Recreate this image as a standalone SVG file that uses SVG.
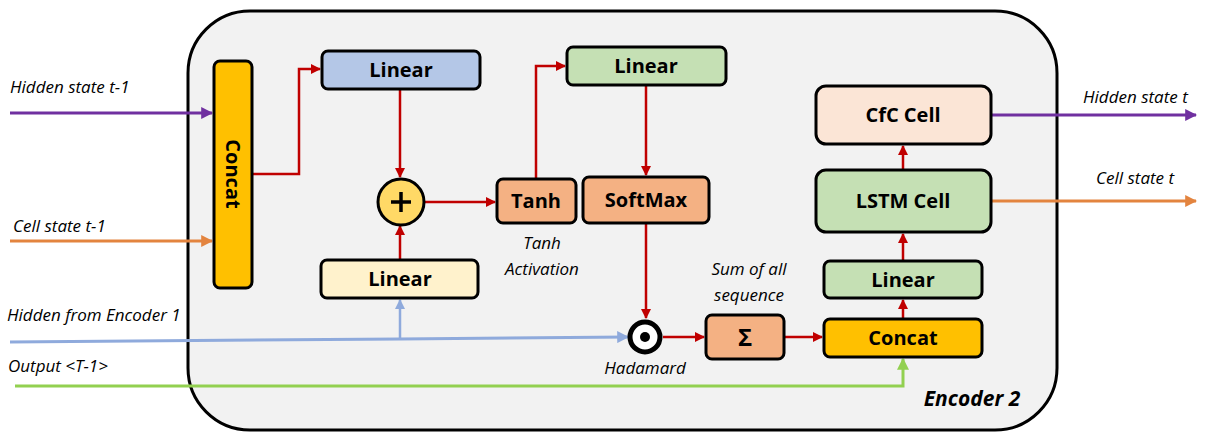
<svg xmlns="http://www.w3.org/2000/svg" width="1206" height="441" viewBox="0 0 1206 441">
<style>
.box{stroke:#000;stroke-width:3}
.t{font-family:"Open Sans","Liberation Sans",sans-serif;font-weight:bold;font-size:20px;text-anchor:middle;fill:#000}
.lbl{font-family:"Open Sans","Liberation Sans",sans-serif;font-style:italic;font-size:17px;fill:#000}
.red{stroke:#c00000;stroke-width:2.5;fill:none;marker-end:url(#ar)}
</style>
<defs>
<marker id="ar" viewBox="0 0 10 10" refX="9" refY="5" markerWidth="4" markerHeight="4" orient="auto" markerUnits="strokeWidth"><path d="M0,0L10,5L0,10z" fill="#c00000"/></marker>
<marker id="ap" viewBox="0 0 10 10" refX="9" refY="5" markerWidth="4" markerHeight="4" orient="auto" markerUnits="strokeWidth"><path d="M0,0L10,5L0,10z" fill="#7030a0"/></marker>
<marker id="ao" viewBox="0 0 10 10" refX="9" refY="5" markerWidth="4" markerHeight="4" orient="auto" markerUnits="strokeWidth"><path d="M0,0L10,5L0,10z" fill="#e3843f"/></marker>
<marker id="ab" viewBox="0 0 10 10" refX="9" refY="5" markerWidth="4" markerHeight="4" orient="auto" markerUnits="strokeWidth"><path d="M0,0L10,5L0,10z" fill="#8faadc"/></marker>
<marker id="ag" viewBox="0 0 10 10" refX="9" refY="5" markerWidth="4" markerHeight="4" orient="auto" markerUnits="strokeWidth"><path d="M0,0L10,5L0,10z" fill="#92d050"/></marker>
</defs>
<rect width="1206" height="441" fill="#fff"/>
<g id="encoder2">
<rect x="188" y="11" width="869" height="419" rx="62" fill="#f2f2f2" stroke="#000" stroke-width="3"/>
<text x="972" y="406" text-anchor="middle" style="font-family:'Open Sans','Liberation Sans',sans-serif;font-weight:bold;font-style:italic;font-size:21px">Encoder 2</text>
</g>
<g id="connectors">
<path d="M10,113H212" stroke="#7030a0" stroke-width="3" fill="none" marker-end="url(#ap)"/>
<path d="M10,241H212" stroke="#e3843f" stroke-width="3" fill="none" marker-end="url(#ao)"/>
<path d="M10,342L400,339L628,337" stroke="#8faadc" stroke-width="3" fill="none" marker-end="url(#ab)"/>
<path d="M400,339V300" stroke="#8faadc" stroke-width="2.5" fill="none" marker-end="url(#ab)"/>
<path d="M15,386H903V359" stroke="#92d050" stroke-width="3" fill="none" marker-end="url(#ag)"/>
<path d="M252,174H299V69H320" class="red"/>
<path d="M400,89V177" class="red"/>
<path d="M400,260V226" class="red"/>
<path d="M424,202H495" class="red"/>
<path d="M536,179V66H565" class="red"/>
<path d="M646,86V175" class="red"/>
<path d="M646,224V318" class="red"/>
<path d="M663,337H704" class="red"/>
<path d="M785,337H822" class="red"/>
<path d="M903,318V300" class="red"/>
<path d="M903,261V234" class="red"/>
<path d="M903,170V146" class="red"/>
<path d="M992,115H1196" stroke="#7030a0" stroke-width="3" fill="none" marker-end="url(#ap)"/>
<path d="M992,201H1196" stroke="#e3843f" stroke-width="3" fill="none" marker-end="url(#ao)"/>
</g>
<g id="labels">
<text class="lbl" x="10" y="93">Hidden state t-1</text>
<text class="lbl" x="13" y="232">Cell state t-1</text>
<text class="lbl" x="7" y="321">Hidden from Encoder 1</text>
<text class="lbl" x="8" y="372">Output &lt;T-1&gt;</text>
<text class="lbl" x="542" y="249" text-anchor="middle">Tanh</text>
<text class="lbl" x="542" y="275" text-anchor="middle">Activation</text>
<text class="lbl" x="749" y="275" text-anchor="middle">Sum of all</text>
<text class="lbl" x="749" y="301" text-anchor="middle">sequence</text>
<text class="lbl" x="645" y="374" text-anchor="middle">Hadamard</text>
<text class="lbl" x="1083" y="103">Hidden state t</text>
<text class="lbl" x="1096" y="184">Cell state t</text>
</g>
<g id="concat1">
<rect class="box" x="214" y="61" width="38" height="227" rx="6" fill="#ffc000"/>
<text class="t" transform="translate(233,174) rotate(90)" dy="7">Concat</text>
</g>
<g id="linear-blue">
<rect class="box" x="322" y="51" width="158" height="38" rx="6" fill="#b4c7e7"/>
<text class="t" x="401" y="77">Linear</text>
</g>
<g id="plus">
<circle cx="401" cy="202" r="23" fill="#ffd966" stroke="#000" stroke-width="3"/>
<path d="M391,202H411M401,192V212" stroke="#000" stroke-width="3.5"/>
</g>
<g id="linear-cream">
<rect class="box" x="321" y="260" width="157" height="38" rx="6" fill="#fff2cc"/>
<text class="t" x="400" y="286">Linear</text>
</g>
<g id="tanh">
<rect class="box" x="497" y="179" width="79" height="44" rx="6" fill="#f4b183"/>
<text class="t" x="536" y="208">Tanh</text>
</g>
<g id="linear-green1">
<rect class="box" x="567" y="47" width="159" height="38" rx="6" fill="#c5e0b4"/>
<text class="t" x="646" y="73">Linear</text>
</g>
<g id="softmax">
<rect class="box" x="583" y="177" width="126" height="46" rx="6" fill="#f4b183"/>
<text class="t" x="646" y="207">SoftMax</text>
</g>
<g id="hadamard">
<circle cx="645" cy="337" r="15" fill="#fff" stroke="#000" stroke-width="5"/>
<circle cx="645" cy="337" r="5" fill="#000"/>
</g>
<g id="sum">
<rect class="box" x="706" y="315" width="78" height="44" rx="6" fill="#f4b183"/>
<text class="t" x="745" y="346" style="font-size:24px">Σ</text>
</g>
<g id="concat2">
<rect class="box" x="824" y="319" width="158" height="38" rx="6" fill="#ffc000"/>
<text class="t" x="903" y="345">Concat</text>
</g>
<g id="linear-green2">
<rect class="box" x="824" y="261" width="158" height="37" rx="6" fill="#c5e0b4"/>
<text class="t" x="903" y="287">Linear</text>
</g>
<g id="lstm">
<rect class="box" x="816" y="170" width="175" height="62" rx="10" fill="#c5e0b4"/>
<text class="t" x="903" y="208">LSTM Cell</text>
</g>
<g id="cfc">
<rect class="box" x="816" y="86" width="175" height="58" rx="10" fill="#fbe5d6"/>
<text class="t" x="903" y="122">CfC Cell</text>
</g>
</svg>
